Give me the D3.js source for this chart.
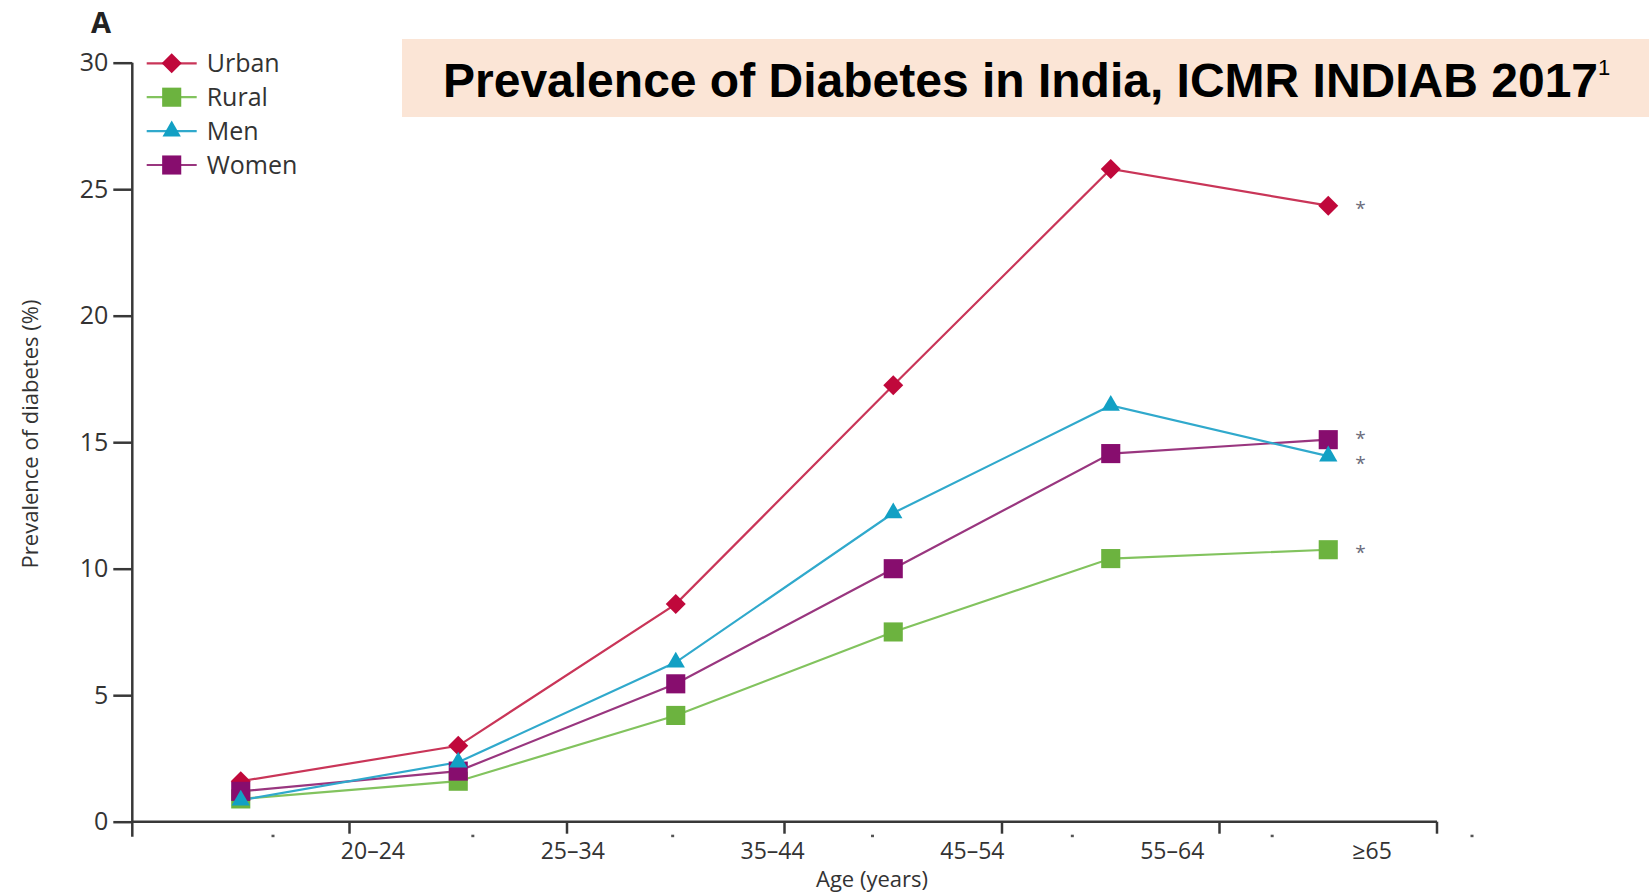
<!DOCTYPE html>
<html>
<head>
<meta charset="utf-8">
<script src="https://cdn.jsdelivr.net/npm/d3@7"></script>
<style>
  body { margin: 0; background: #fff; }
  svg text { font-family: "Open Sans", sans-serif; }
</style>
</head>
<body>
<div id="chart"></div>
<script>
// values (prevalence %)
const ageGroups = ["20–24", "25–34", "35–44", "45–54", "55–64", "≥65"];
const urban = [1.6, 3.0, 8.6, 17.25, 25.8, 24.35];
const rural = [0.9, 1.6, 4.2, 7.5, 10.4, 10.75];
const men = [0.85, 2.35, 6.3, 12.2, 16.45, 14.45];
const women = [1.2, 2.0, 5.45, 10.0, 14.55, 15.1];
const yTicks = [0, 5, 10, 15, 20, 25, 30];
const legendNames = ["Urban", "Rural", "Men", "Women"];

const width = 1649, height = 893;

const series = [
  {name: "Urban", values: urban, fill: "#c0083b", line: "#c93558", shape: "diamond", starNudge: 0},
  {name: "Rural", values: rural, fill: "#6cb33f", line: "#82c35e", shape: "square", starNudge: 0},
  {name: "Women", values: women, fill: "#870d6e", line: "#99367f", shape: "square", starNudge: -4},
  {name: "Men", values: men, fill: "#12a0c4", line: "#30a9cc", shape: "triangle", starNudge: 5}
];

const svg = d3.select("#chart").append("svg")
  .attr("width", width).attr("height", height);

// title banner
svg.append("rect")
  .attr("x", 402).attr("y", 39).attr("width", width - 402).attr("height", 78)
  .attr("fill", "#fbe5d6");
const title = svg.append("text")
  .attr("x", 443).attr("y", 97)
  .style("font-family", "'Liberation Sans', Arial, sans-serif")
  .style("font-weight", "bold").style("font-size", "48px")
  .attr("fill", "#000")
  .text("Prevalence of Diabetes in India, ICMR INDIAB 2017");
title.append("tspan").attr("dy", -22).style("font-size", "22px").style("font-weight", "normal").text("1");

// panel letter
svg.append("text").attr("x", 101).attr("y", 33).attr("text-anchor", "middle")
  .style("font-size", "29px").style("font-weight", "bold").attr("fill", "#222").text("A");

// scales
const x = d3.scaleBand().domain(ageGroups).range([132, 1437]);
const xLab = d3.scaleBand().domain(ageGroups).range([273, 1472]);
const y = d3.scaleLinear().domain([0, 30]).range([821.7, 62.7]);
const cx = d => x(d) + x.bandwidth() / 2;

const axisColor = "#383838";

// y axis
const yAxis = d3.axisLeft(y).tickValues(yTicks).tickSize(19).tickPadding(5).tickSizeOuter(0);
const gy = svg.append("g").attr("transform", "translate(132.3,0)").call(yAxis);
gy.select(".domain").remove();
gy.selectAll(".tick line").attr("stroke", axisColor).attr("stroke-width", 2.5);
gy.selectAll(".tick text").style("font-size", "25px").attr("fill", "#333").attr("font-family", null);
svg.append("line")
  .attr("x1", 132.3).attr("x2", 132.3).attr("y1", y(30)).attr("y2", y(0) + 15)
  .attr("stroke", axisColor).attr("stroke-width", 2.5);

// x axis
svg.append("line")
  .attr("x1", 132.3).attr("x2", x.range()[1]).attr("y1", y(0)).attr("y2", y(0))
  .attr("stroke", axisColor).attr("stroke-width", 2.5);
const edges = ageGroups.map(d => x(d)).concat([x.range()[1]]).slice(1);
svg.selectAll(".major").data(edges).enter().append("line")
  .attr("x1", d => d).attr("x2", d => d).attr("y1", y(0)).attr("y2", y(0) + 12)
  .attr("stroke", axisColor).attr("stroke-width", 2.5);
const minors = ageGroups.map(d => xLab(d)).concat([xLab.range()[1]]);
svg.selectAll(".minor").data(minors).enter().append("rect")
  .attr("x", d => d - 1.5).attr("y", y(0) + 13).attr("width", 3).attr("height", 2.5)
  .attr("fill", "#555");

const xAxis = d3.axisBottom(xLab).tickSize(0).tickPadding(0);
const gx = svg.append("g").attr("transform", `translate(0,${y(0) + 21})`).call(xAxis);
gx.select(".domain").remove();
gx.selectAll(".tick text").style("font-size", "23px").attr("fill", "#333").attr("font-family", null);

// axis titles
svg.append("text")
  .attr("transform", `translate(872,${height - 6})`)
  .attr("text-anchor", "middle").style("font-size", "22px").attr("fill", "#333")
  .text("Age (years)");
svg.append("text")
  .attr("transform", "translate(30,434) rotate(-90)")
  .attr("text-anchor", "middle").attr("dy", "0.35em").style("font-size", "22px").attr("fill", "#333")
  .text("Prevalence of diabetes (%)");

// markers
function symbolPath(shape) {
  if (shape === "diamond") return d3.symbol(d3.symbolSquare, 200)();
  if (shape === "triangle") return d3.symbol(d3.symbolTriangle, 145)();
  return d3.symbol(d3.symbolSquare, 365)();
}
function symbolTransform(shape, px, py) {
  return shape === "diamond" ? `translate(${px},${py}) rotate(45)` : `translate(${px},${py})`;
}

const line = d3.line().x(d => cx(d.age)).y(d => y(d.v));

series.forEach(s => {
  const pts = s.values.map((v, i) => ({age: ageGroups[i], v: v}));
  svg.append("path").datum(pts)
    .attr("d", line).attr("fill", "none")
    .attr("stroke", s.line).attr("stroke-width", 2.2);
});
series.forEach(s => {
  const pts = s.values.map((v, i) => ({age: ageGroups[i], v: v}));
  svg.append("g").selectAll("path").data(pts).enter().append("path")
    .attr("d", symbolPath(s.shape))
    .attr("transform", d => symbolTransform(s.shape, cx(d.age), y(d.v)))
    .attr("fill", s.fill);
});

// significance stars at last age group
series.forEach(s => {
  svg.append("text")
    .attr("x", cx(ageGroups[ageGroups.length - 1]) + 27)
    .attr("y", y(s.values[s.values.length - 1]) + 9 + s.starNudge)
    .style("font-size", "19px").attr("fill", "#6b6b7b")
    .text("*");
});

// legend
const legend = svg.append("g");
legendNames.forEach((name, i) => {
  const s = series.find(d => d.name === name);
  const ly = 63.3 + i * 33.9;
  legend.append("line")
    .attr("x1", 146.7).attr("x2", 196.7).attr("y1", ly).attr("y2", ly)
    .attr("stroke", s.line).attr("stroke-width", 2.2);
  legend.append("path")
    .attr("d", symbolPath(s.shape))
    .attr("transform", symbolTransform(s.shape, 171.7, ly))
    .attr("fill", s.fill);
  legend.append("text")
    .attr("x", 206.7).attr("y", ly).attr("dy", "0.36em")
    .style("font-size", "25px").attr("fill", "#333")
    .text(name);
});
</script>
</body>
</html>
